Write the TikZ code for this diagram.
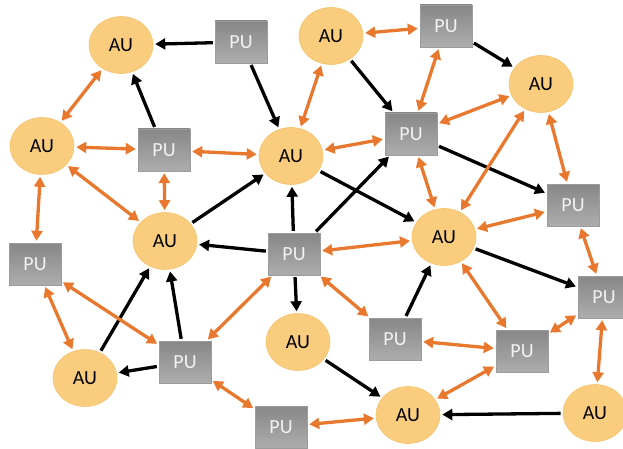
\documentclass[tikz,border=0pt]{standalone}
\usepackage{fontspec}
\setmainfont{Carlito}
\usetikzlibrary{arrows.meta,shapes.geometric}
\definecolor{aufill}{HTML}{F9CC7E}
\definecolor{audraw}{HTML}{F5C46E}
\definecolor{putop}{HTML}{878787}
\definecolor{pubot}{HTML}{ADADAD}
\definecolor{orangeln}{HTML}{E9782F}
\definecolor{putext}{HTML}{F2F2F2}
\tikzset{
  au/.style={ellipse, fill=aufill, draw=audraw, line width=0.6pt, minimum width=64pt, minimum height=57pt, inner sep=0pt, font=\fontsize{20}{20}\selectfont, text=black},
  pu/.style={rectangle, top color=putop, bottom color=pubot, draw=pubot!90!black, line width=0.4pt, minimum width=52pt, minimum height=42pt, inner sep=0pt, font=\fontsize{20}{20}\selectfont, text=putext},
  blk/.style={draw=black, line width=3.3pt, -{Triangle[length=10pt,width=11pt]}, shorten >=2pt, shorten <=2pt},
  org/.style={draw=orangeln, line width=3.3pt, {Triangle[length=10pt,width=11pt]}-{Triangle[length=10pt,width=11pt]}, shorten >=2pt, shorten <=2pt},
}
\begin{document}
\begin{tikzpicture}[x=1pt,y=-1pt]
\useasboundingbox (0,0) rectangle (623,449);
% AU nodes
\node[au] (au1) at (121,45) {AU};
\node[au] (au2) at (42,146) {AU};
\node[au] (au3) at (291,156) {AU};
\node[au] (au4) at (331,36) {AU};
\node[au] (au5) at (541,84) {AU};
\node[au] (au6) at (165,241) {AU};
\node[au] (au7) at (444,237) {AU};
\node[au] (au8) at (85,378) {AU};
\node[au] (au9) at (298,342) {AU};
\node[au] (au10) at (408,415) {AU};
\node[au] (au11) at (595,413) {AU};
% PU nodes
\node[pu] (pu1) at (241,42) {PU};
\node[pu] (pu2) at (164,150) {PU};
\node[pu] (pu3) at (446,26) {PU};
\node[pu] (pu4) at (411,134) {PU};
\node[pu] (pu5) at (573,205) {PU};
\node[pu] (pu6) at (294,254) {PU};
\node[pu] (pu7) at (35,264) {PU};
\node[pu] (pu8) at (185,362) {PU};
\node[pu] (pu9) at (281,427) {PU};
\node[pu] (pu10) at (395,339) {PU};
\node[pu] (pu11) at (522,351) {PU};
\node[pu] (pu12) at (604,297) {PU};
% black arrows
\draw[blk] (pu1) -- (au1);
\draw[blk] (pu1) -- (au3);
\draw[blk] (pu2) -- (au1);
\draw[blk] (au4) -- (pu4);
\draw[blk] (pu3) -- (au5);
\draw[blk] (pu4) -- (pu5);
\draw[blk] (au3) -- (au7);
\draw[blk] (pu6) -- (pu4);
\draw[blk] (pu6) -- (au3);
\draw[blk] (au6) -- (au3);
\draw[blk] (pu6) -- (au6);
\draw[blk] (pu6) -- (au9);
\draw[blk] (au8) -- (au6);
\draw[blk] (pu8) -- (au6);
\draw[blk] (pu8) -- (au8);
\draw[blk] (au9) -- (au10);
\draw[blk] (au11) -- (au10);
\draw[blk] (pu10) -- (au7);
\draw[blk] (au7) -- (pu12);
% orange double arrows
\draw[org] (au1) -- (au2);
\draw[org] (au2) -- (pu2);
\draw[org] (pu2) -- (au3);
\draw[org] (au2) -- (au6);
\draw[org] (pu2) -- (au6);
\draw[org] (au2) -- (pu7);
\draw[org] (pu7) -- (au8);
\draw[org] (pu7) -- (pu8);
\draw[org] (pu8) -- (pu6);
\draw[org] (pu8) -- (pu9);
\draw[org] (pu9) -- (au10);
\draw[org] (au3) -- (au4);
\draw[org] (au4) -- (pu3);
\draw[org] (pu3) -- (pu4);
\draw[org] (pu4) -- (au3);
\draw[org] (pu4) -- (au5);
\draw[org] (au5) -- (pu5);
\draw[org] (au5) -- (au7);
\draw[org] (pu4) -- (au7);
\draw[org] (au7) -- (pu5);
\draw[org] (pu5) -- (pu12);
\draw[org] (pu6) -- (au7);
\draw[org] (pu6) -- (pu10);
\draw[org] (pu10) -- (pu11);
\draw[org] (au7) -- (pu11);
\draw[org] (pu11) -- (pu12);
\draw[org] (au10) -- (pu11);
\draw[org] (pu12) -- (au11);
\end{tikzpicture}
\end{document}
